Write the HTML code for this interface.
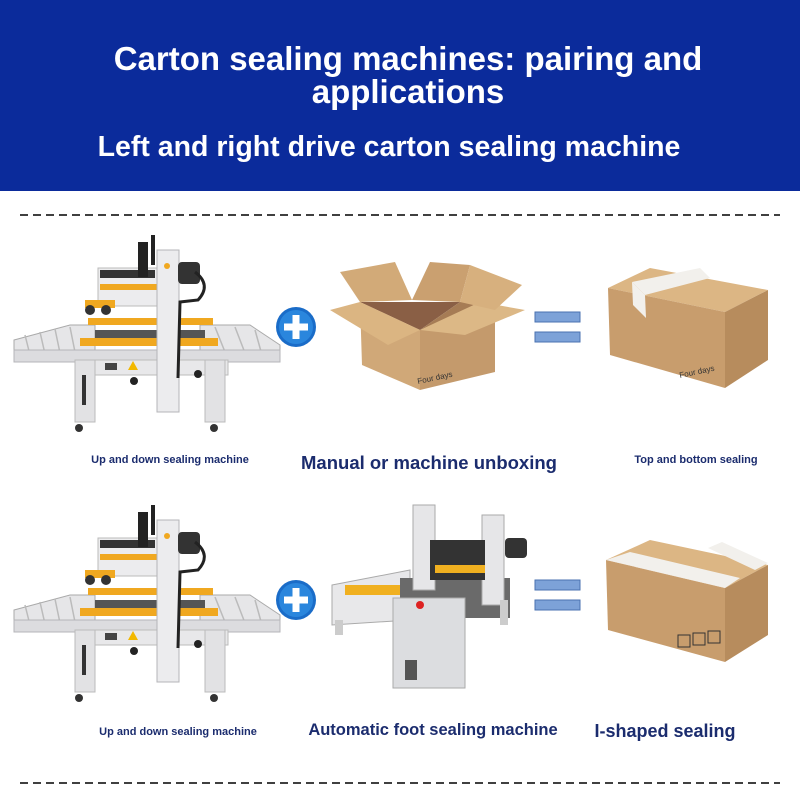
<!DOCTYPE html>
<html><head><meta charset="utf-8"><style>
body{margin:0;width:800px;height:800px;background:#fff;font-family:"Liberation Sans",sans-serif;overflow:hidden;position:relative}
.hd{position:absolute;left:0;top:0;width:800px;height:191px;background:#0b2b9b}
.t{position:absolute;color:#fff;font-weight:bold;text-align:center;width:800px;left:0}
.l{position:absolute;color:#1b2c6e;font-weight:bold;text-align:center;white-space:nowrap}
</style></head><body>
<div class="hd"></div>
<div class="t" style="top:42px;font-size:33px;line-height:33px;left:8px">Carton sealing machines: pairing and<br>applications</div>
<div class="t" style="top:131px;font-size:28.5px;left:-11px">Left and right drive carton sealing machine</div>
<svg width="800" height="800" style="position:absolute;left:0;top:0">
<defs>
<g id="m">
<polygon points="14,340 70,325 95,325 95,352 14,360" fill="#e6e6e8" stroke="#aaa"/>
<polygon points="200,325 250,325 280,345 280,360 200,352" fill="#e6e6e8" stroke="#aaa"/>
<g stroke="#bbb" stroke-width="1.5"><line x1="25" y1="335" x2="30" y2="355"/><line x1="40" y1="332" x2="45" y2="354"/><line x1="55" y1="329" x2="60" y2="353"/><line x1="70" y1="327" x2="75" y2="352"/><line x1="215" y1="327" x2="225" y2="352"/><line x1="235" y1="327" x2="245" y2="353"/><line x1="255" y1="330" x2="262" y2="355"/></g>
<rect x="14" y="350" width="266" height="12" fill="#dcdcdf" stroke="#b5b5b8"/>
<rect x="78" y="360" width="150" height="15" fill="#e8e8ea" stroke="#bbb"/>
<rect x="75" y="360" width="20" height="62" fill="#e2e2e4" stroke="#bbb"/>
<rect x="205" y="360" width="20" height="62" fill="#e2e2e4" stroke="#bbb"/>
<rect x="105" y="363" width="12" height="7" fill="#444"/>
<polygon points="128,370 133,361 138,370" fill="#f2b800"/>
<rect x="82" y="375" width="4" height="30" fill="#333"/>
<circle cx="134" cy="381" r="4" fill="#222"/><circle cx="198" cy="374" r="4" fill="#222"/>
<circle cx="79" cy="428" r="4" fill="#333"/><circle cx="214" cy="428" r="4" fill="#333"/>
<rect x="88" y="318" width="125" height="7" fill="#f0a820"/>
<rect x="80" y="338" width="138" height="8" fill="#f0a820"/>
<rect x="95" y="330" width="110" height="8" fill="#555"/>
<rect x="98" y="268" width="68" height="38" fill="#ececee" stroke="#bbb"/>
<rect x="100" y="284" width="64" height="6" fill="#f0a820"/>
<rect x="100" y="270" width="55" height="8" fill="#333"/>
<rect x="85" y="300" width="30" height="8" fill="#f0a820"/>
<circle cx="90" cy="310" r="5" fill="#333"/><circle cx="106" cy="310" r="5" fill="#333"/>
<rect x="138" y="242" width="10" height="35" fill="#222"/>
<rect x="151" y="235" width="4" height="30" fill="#222"/>
<rect x="157" y="250" width="22" height="162" fill="#ececee" stroke="#b5b5b8"/>
<circle cx="167" cy="266" r="3" fill="#f0a820"/>
<rect x="178" y="262" width="22" height="22" fill="#333" rx="4"/>
<path d="M195 272 Q212 285 198 300 L180 302 L178 378" stroke="#222" stroke-width="3" fill="none"/>
</g>
<g id="plus"><circle r="20" fill="#1a6cc8"/><circle r="17" fill="#2a86dd"/><rect x="-12" y="-3.5" width="24" height="7" fill="#fff"/><rect x="-3.5" y="-12" width="7" height="24" fill="#fff"/></g>
<g id="eq"><rect x="0" y="0" width="45" height="10" fill="#7da2d8" stroke="#4a72b0"/><rect x="0" y="20" width="45" height="10" fill="#7da2d8" stroke="#4a72b0"/></g>
</defs>
<line x1="20" y1="215" x2="780" y2="215" stroke="#000" stroke-width="1.5" stroke-dasharray="8,5"/>
<line x1="20" y1="783" x2="780" y2="783" stroke="#000" stroke-width="1.5" stroke-dasharray="8,5"/>
<use href="#m"/>
<use href="#m" y="270"/>
<use href="#plus" x="296" y="327"/>
<use href="#plus" x="296" y="600"/>
<use href="#eq" x="535" y="312"/>
<use href="#eq" x="535" y="580"/>
<polygon points="360,302 460,302 420,330" fill="#8a5f45"/>
<polygon points="460,302 480,302 470,330 420,330" fill="#a67c55"/>
<polygon points="360,302 420,330 420,390 362,365" fill="#d0a878"/>
<polygon points="420,330 495,310 495,372 420,390" fill="#c49a6c"/>
<polygon points="330,310 360,302 420,330 388,345" fill="#dbb582"/>
<polygon points="420,330 480,302 525,310 465,335" fill="#dcb886"/>
<polygon points="360,302 340,272 395,262 412,300" fill="#d2aa78"/>
<polygon points="412,300 460,302 470,265 430,262" fill="#caa070"/>
<polygon points="460,302 495,310 522,285 470,265" fill="#d7b07e"/>
<text x="418" y="384" font-size="8" fill="#333" transform="rotate(-12 418 384)">Four days</text>
<polygon points="608,288 650,268 768,290 725,312" fill="#dcb684"/>
<polygon points="608,288 725,312 725,388 610,355" fill="#c89d6d"/>
<polygon points="725,312 768,290 768,360 725,388" fill="#b78c5d"/>
<polygon points="632,282 700,268 710,278 645,295" fill="#f2f0ec"/>
<polygon points="632,282 645,295 646,318 633,305" fill="#f2f0ec"/>
<text x="680" y="378" font-size="8" fill="#333" transform="rotate(-12 680 378)">Four days</text>
<polygon points="606,560 650,540 768,565 725,588" fill="#dcb684"/>
<polygon points="606,560 725,588 725,662 608,630" fill="#c89d6d"/>
<polygon points="725,588 768,565 768,635 725,662" fill="#b78c5d"/>
<polygon points="606,560 630,552 740,578 725,588" fill="#f2f0ec"/>
<polygon points="708,548 722,542 768,563 755,570" fill="#f2f0ec"/>
<rect x="678" y="635" width="12" height="12" fill="none" stroke="#333"/><rect x="693" y="633" width="12" height="12" fill="none" stroke="#333"/><rect x="708" y="631" width="12" height="12" fill="none" stroke="#333"/>
<polygon points="332,585 410,570 410,620 332,625" fill="#e8e8ea" stroke="#aaa"/>
<rect x="345" y="585" width="60" height="10" fill="#f0b020"/>
<rect x="400" y="578" width="110" height="40" fill="#6a6a6a"/>
<rect x="413" y="505" width="22" height="85" fill="#e6e6e8" stroke="#aaa"/>
<rect x="482" y="515" width="22" height="90" fill="#e6e6e8" stroke="#aaa"/>
<rect x="430" y="540" width="55" height="40" fill="#333"/>
<rect x="435" y="565" width="50" height="8" fill="#f0b020"/>
<rect x="505" y="538" width="22" height="20" fill="#333" rx="4"/>
<rect x="393" y="598" width="72" height="90" fill="#dcdde0" stroke="#aaa"/>
<rect x="405" y="660" width="12" height="20" fill="#555"/>
<circle cx="420" cy="605" r="4" fill="#d22"/>
<rect x="335" y="620" width="8" height="15" fill="#ccc"/>
<rect x="500" y="600" width="8" height="25" fill="#ccc"/>
</svg>
<div class="l" style="left:70px;top:454px;font-size:11px;width:200px">Up and down sealing machine</div>
<div class="l" style="left:279px;top:452px;font-size:18.5px;width:300px">Manual or machine unboxing</div>
<div class="l" style="left:596px;top:454px;font-size:11px;width:200px">Top and bottom sealing</div>
<div class="l" style="left:78px;top:726px;font-size:11px;width:200px">Up and down sealing machine</div>
<div class="l" style="left:283px;top:721px;font-size:16.5px;width:300px">Automatic foot sealing machine</div>
<div class="l" style="left:565px;top:721px;font-size:18px;width:200px">I-shaped sealing</div>
</body></html>
